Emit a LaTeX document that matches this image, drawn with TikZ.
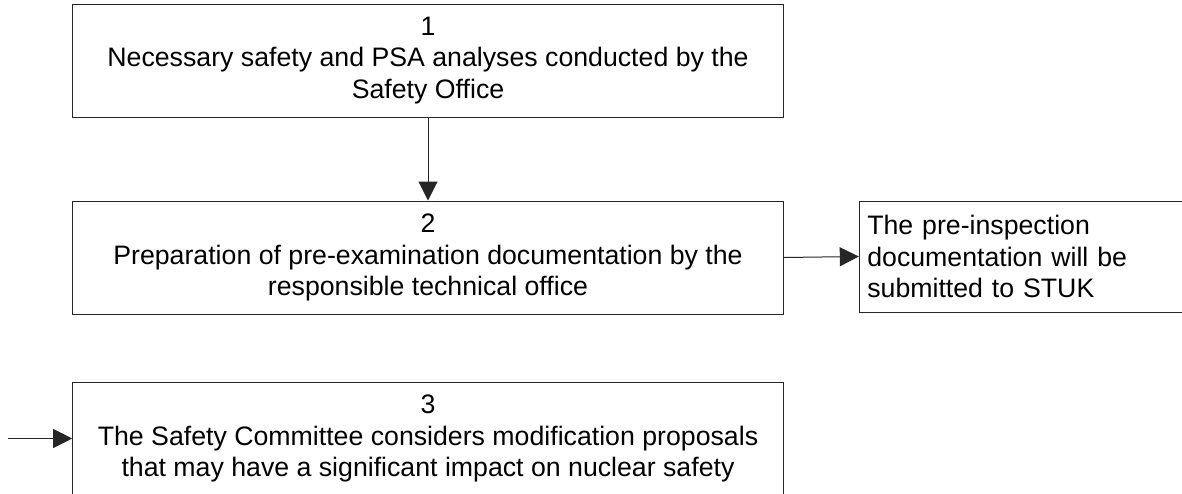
\documentclass[tikz,border=0pt]{standalone}
\usepackage{fontspec}
\setmainfont{Liberation Sans}
\usetikzlibrary{arrows.meta}
\begin{document}
\begin{tikzpicture}[x=1pt,y=-1pt,
  txt/.style={font=\fontsize{26.7}{31.5}\selectfont},
  stepbox/.style={txt, draw=black!85, line width=1pt, inner sep=0pt,
    minimum width=710.6pt, minimum height=113pt, align=center},
  notebox/.style={txt, draw=black!85, line width=1pt, inner xsep=8pt, inner ysep=0pt,
    text width=384pt, minimum height=111pt, align=left},
  flow/.style={draw=black!85, line width=1pt, -{Triangle[length=19pt,width=19pt]}}]
\useasboundingbox (0,0) rectangle (1182,493);
\clip (0,0) rectangle (1182,493);
\fill[white] (0,0) rectangle (1182,493);

% process steps
\node[stepbox] (s1) at (428,60.5)
  {1\\Necessary safety and PSA analyses conducted by the\\Safety Office};
\node[stepbox] (s2) at (428,257.5)
  {2\\Preparation of pre-examination documentation by the\\responsible technical office};
\node[stepbox] (s3) at (428,438.5)
  {3\\The Safety Committee considers modification proposals\\that may have a significant impact on nuclear safety};

% side note
\node[notebox] (n1) at (1059.3,256.5)
  {The pre-inspection\\documentation will be\\submitted to STUK};

% connectors
\coordinate (in3) at (8,438.5);
\draw[flow] (s1.south) -- (s2.north);
\draw[flow] (s2.east) -- (n1.west);
\draw[flow] (in3) -- (s3.west);
\end{tikzpicture}
\end{document}
